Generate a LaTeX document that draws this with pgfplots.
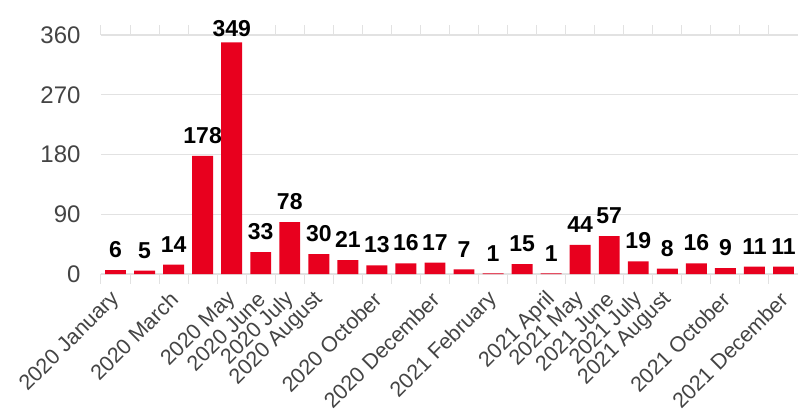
\documentclass[border=0pt]{standalone}
\usepackage{pgfplots}
\pgfplotsset{compat=1.18}
\usepackage{fontspec}
\setmainfont{Liberation Sans}
\definecolor{barred}{HTML}{E8001E}
\definecolor{gridgray}{HTML}{E2E2E2}
\definecolor{labelgray}{HTML}{444444}
\begin{document}
\begin{tikzpicture}
\begin{axis}[
  at={(0pt,0pt)}, anchor=south west,
  scale only axis,
  width=697pt, height=239pt,
  xmin=-0.5, xmax=23.5,
  ymin=0, ymax=360,
  ytick={0,90,180,270,360},
  axis line style={draw=none},
  ymajorgrids=true,
  grid style={gridgray, line width=1.2pt},
  major tick length=0pt,
  xtick={0,...,23},
  xticklabels={2020 January,,2020 March,,2020 May,2020 June,2020 July,2020 August,,2020 October,,2020 December,,2021 February,,2021 April,2021 May,2021 June,2021 July,2021 August,,2021 October,,2021 December},
  minor xtick={-0.5,0.5,...,23.5},
  minor tick length=10pt,
  tick align=outside,
  minor tick style={gridgray, line width=1pt},
  x tick label style={rotate=45, anchor=east, font=\fontsize{21.5}{24}\selectfont, text=labelgray, yshift=-16pt, xshift=-15pt, inner sep=0pt},
  y tick label style={font=\fontsize{24}{26}\selectfont, text=labelgray, xshift=-17pt},
  /pgf/number format/assume math mode=true,
  ybar, bar width=0.72,
  nodes near coords,
  visualization depends on={ifthenelse(y>300,-7,0) \as \extrashift},
  every node near coord/.append style={font=\bfseries\fontsize{23}{26}\selectfont, text=black, inner sep=0pt, yshift=12pt+\extrashift pt, anchor=south},
  clip=false,
]
\draw[gridgray, line width=1.2pt] (axis cs:-0.5,0) -- (axis cs:23.5,0);
\addplot[draw=none, fill=barred] coordinates {
  (0,6) (1,5) (2,14) (3,178) (4,349) (5,33) (6,78) (7,30)
  (8,21) (9,13) (10,16) (11,17) (12,7) (13,1) (14,15) (15,1)
  (16,44) (17,57) (18,19) (19,8) (20,16) (21,9) (22,11) (23,11)
};
\end{axis}
\pgfresetboundingbox
\useasboundingbox (-101pt,-142pt) rectangle (697pt,274pt);
\end{tikzpicture}
\end{document}
